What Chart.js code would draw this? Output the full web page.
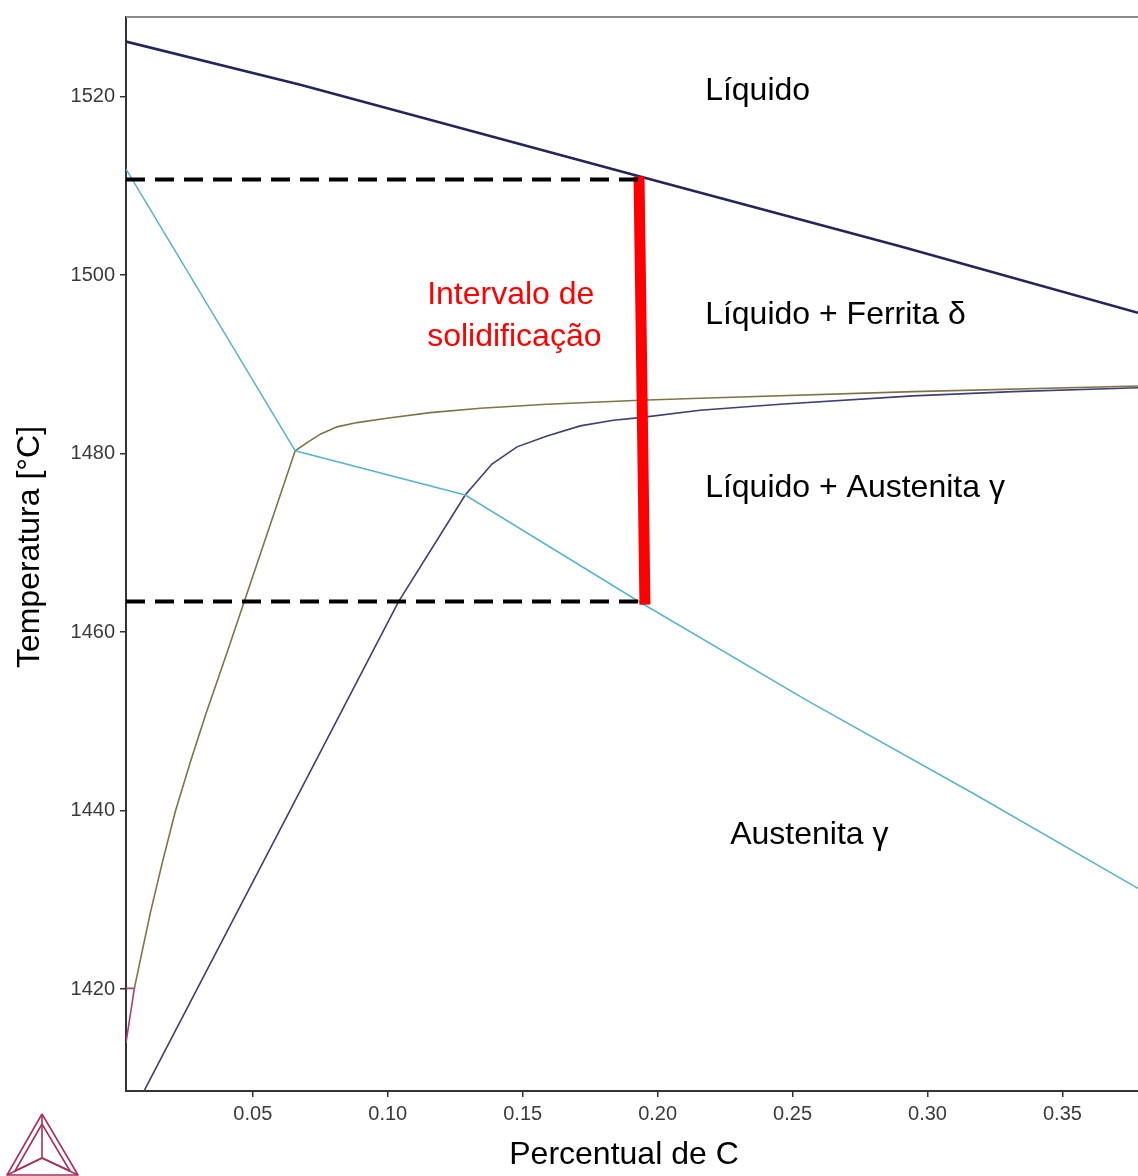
<!DOCTYPE html>
<html lang="pt">
<head>
<meta charset="utf-8">
<title>Diagrama Fe-C – Intervalo de solidificação</title>
<script src="https://cdn.jsdelivr.net/npm/chart.js@4/dist/chart.umd.min.js"></script>
<style>
  html, body { margin: 0; padding: 0; background: #ffffff; }
  canvas { display: block; }
</style>
</head>
<body>
<canvas id="diagram" width="1138" height="1176"></canvas>
<script>
// Axis range and ticks (% C, °C)
const xRange = [0.003, 0.378];
const yRange = [1408.6, 1528.9];
const xTickValues = [0.05, 0.10, 0.15, 0.20, 0.25, 0.30, 0.35];
const yTickValues = [1420, 1440, 1460, 1480, 1500, 1520];
const xTitle = 'Percentual de C';
const yTitle = 'Temperatura [°C]';

// Liquidus
const liquidusC = [0.003, 0.0676, 0.1931, 0.2898, 0.378];
const liquidusT = [1526.15, 1521.31, 1511.05, 1503.23, 1495.77];

// Ferrite δ solidus, peritectic line and austenite γ solidus
const solidusC = [0.003, 0.0657, 0.1287, 0.1935, 0.2553, 0.3170, 0.378];
const solidusT = [1511.87, 1480.31, 1475.35, 1463.34, 1452.35, 1441.92, 1431.29];

// δ / δ+γ boundary and L+δ / L+γ boundary
const deltaC = [0.0061, 0.0091, 0.0120, 0.0165, 0.0213, 0.0267, 0.0324, 0.0407, 0.0657,
                0.0701, 0.0750, 0.0812, 0.0886, 0.0997, 0.1157, 0.1343, 0.1590, 0.1935,
                0.2157, 0.2946, 0.378];
const deltaT = [1420.10, 1424.40, 1428.53, 1434.23, 1439.94, 1445.30, 1450.67, 1457.94, 1480.31,
                1481.23, 1482.17, 1482.99, 1483.47, 1483.96, 1484.59, 1485.08, 1485.53, 1485.97,
                1486.20, 1486.94, 1487.57];

// γ boundary (δ+γ / γ) and L+γ upper boundary
const gammaC = [0.0098, 0.0569, 0.1040, 0.1287, 0.1386, 0.1479, 0.1590, 0.1713, 0.1836,
                0.1935, 0.2157, 0.2454, 0.2946, 0.3317, 0.378];
const gammaT = [1408.66, 1436.02, 1463.42, 1475.35, 1478.82, 1480.75, 1481.98, 1483.10, 1483.74,
                1484.03, 1484.86, 1485.53, 1486.46, 1486.94, 1487.38];

// Small δ-ferrite corner near 1420 °C
const cornerC = [0.003, 0.0061, 0.003];
const cornerT = [1420.10, 1420.10, 1413.99];

// Solidification interval for the marked composition
const intervalC = [0.1931, 0.1953];
const intervalT = [1511.05, 1463.08];

// Guide lines at the start and end of solidification
const upperGuideC = [0.003, 0.1954];
const upperGuideT = [1510.69, 1510.69];
const lowerGuideC = [0.003, 0.1954];
const lowerGuideT = [1463.42, 1463.42];

// Region names
const regionNames = ['Líquido', 'Líquido + Ferrita δ', 'Líquido + Austenita γ', 'Austenita γ'];
const regionC = [0.2176, 0.2176, 0.2176, 0.2269];
const regionT = [1520.56, 1495.51, 1476.17, 1437.25];

const intervalLabel = ['Intervalo de', 'solidificação'];
const intervalLabelC = [0.1146, 0.1146];
const intervalLabelT = [1497.75, 1493.05];

const toPoints = (cs, ts) => cs.map((c, i) => ({ x: c, y: ts[i] }));

function lineSet(cs, ts, color, width, order, extra) {
  return Object.assign({
    data: toPoints(cs, ts),
    showLine: true,
    borderColor: color,
    backgroundColor: color,
    borderWidth: width,
    pointRadius: 0,
    pointHoverRadius: 0,
    tension: 0,
    fill: false,
    order: order
  }, extra || {});
}

const labelFont = '32px "Liberation Sans", Arial, sans-serif';

// Region names, interval caption, axis titles, top frame and logo
const decorations = {
  id: 'decorations',
  afterDatasetsDraw(chart) {
    const { ctx, chartArea, scales } = chart;
    ctx.save();
    // top frame line
    ctx.strokeStyle = '#8a8a8a';
    ctx.lineWidth = 2;
    ctx.beginPath();
    ctx.moveTo(chartArea.left, chartArea.top);
    ctx.lineTo(chartArea.right, chartArea.top);
    ctx.stroke();

    ctx.font = labelFont;
    ctx.textAlign = 'left';
    ctx.textBaseline = 'middle';
    ctx.fillStyle = '#000000';
    regionNames.forEach((t, i) => {
      ctx.fillText(t, scales.x.getPixelForValue(regionC[i]), scales.y.getPixelForValue(regionT[i]));
    });
    ctx.fillStyle = '#ff0000';
    intervalLabel.forEach((t, i) => {
      ctx.fillText(t, scales.x.getPixelForValue(intervalLabelC[i]), scales.y.getPixelForValue(intervalLabelT[i]));
    });

    // axis titles
    ctx.fillStyle = '#000000';
    ctx.textAlign = 'center';
    ctx.fillText(xTitle, (chartArea.left + chartArea.right) / 2 - 8, chart.height - 21);
    ctx.translate(30, (chartArea.top + chartArea.bottom) / 2 - 7);
    ctx.rotate(-Math.PI / 2);
    ctx.fillText(yTitle, 0, 0);
    ctx.restore();
  },
  afterDraw(chart) {
    const ctx = chart.ctx;
    ctx.save();
    ctx.strokeStyle = '#a8305a';
    ctx.lineWidth = 1.6;
    ctx.lineJoin = 'round';
    const seg = (pts) => {
      ctx.beginPath();
      ctx.moveTo(pts[0][0], pts[0][1]);
      for (let i = 1; i < pts.length; i++) ctx.lineTo(pts[i][0], pts[i][1]);
      ctx.stroke();
    };
    // tetrahedron mark
    seg([[42, 1114], [7, 1175], [78, 1175], [42, 1114]]);
    seg([[42, 1124], [15, 1171], [42, 1158]]);
    seg([[42, 1124], [70, 1171], [42, 1158]]);
    seg([[42, 1114], [42, 1158]]);
    seg([[7, 1175], [42, 1158], [78, 1175]]);
    ctx.restore();
  }
};

const tickFont = { family: '"Liberation Sans", Arial, sans-serif', size: 20 };

new Chart(document.getElementById('diagram'), {
  type: 'scatter',
  data: {
    datasets: [
      lineSet(upperGuideC, upperGuideT, '#000000', 4, 0, { borderDash: [19, 10] }),
      lineSet(lowerGuideC, lowerGuideT, '#000000', 4, 0, { borderDash: [19, 10] }),
      lineSet(intervalC, intervalT, '#ff0000', 11, 1),
      lineSet(liquidusC, liquidusT, '#25255a', 2.6, 2),
      lineSet(solidusC, solidusT, '#5ab4d0', 1.6, 3),
      lineSet(deltaC, deltaT, '#7d7448', 1.6, 3),
      lineSet(gammaC, gammaT, '#3e3e74', 1.6, 3),
      lineSet(cornerC, cornerT, '#a8407a', 1.6, 3)
    ]
  },
  options: {
    responsive: false,
    animation: false,
    devicePixelRatio: 1,
    events: [],
    layout: { padding: { top: 16, right: 0, bottom: 0, left: 0 } },
    plugins: {
      legend: { display: false },
      tooltip: { enabled: false },
      title: { display: false }
    },
    scales: {
      x: {
        type: 'linear',
        position: 'bottom',
        min: xRange[0],
        max: xRange[1],
        afterBuildTicks: (s) => { s.ticks = xTickValues.map(v => ({ value: v })); },
        afterFit: (s) => { s.height = 85; },
        grid: { display: true, drawOnChartArea: false, drawTicks: true, tickLength: 6, color: '#333333', lineWidth: 1.5 },
        border: { display: true, color: '#333333', width: 2 },
        ticks: {
          padding: 5, color: '#3a3a3a', font: tickFont, maxRotation: 0, autoSkip: false,
          callback: (v) => Number(v).toFixed(2)
        },
        title: { display: false }
      },
      y: {
        type: 'linear',
        position: 'left',
        min: yRange[0],
        max: yRange[1],
        afterBuildTicks: (s) => { s.ticks = yTickValues.map(v => ({ value: v })); },
        afterFit: (s) => { s.width = 126; },
        grid: { display: true, drawOnChartArea: false, drawTicks: true, tickLength: 6, color: '#333333', lineWidth: 1.5 },
        border: { display: true, color: '#333333', width: 2 },
        ticks: {
          padding: 5, color: '#3a3a3a', font: tickFont, autoSkip: false,
          callback: (v) => String(v)
        },
        title: { display: false }
      }
    }
  },
  plugins: [decorations]
});
</script>
</body>
</html>
